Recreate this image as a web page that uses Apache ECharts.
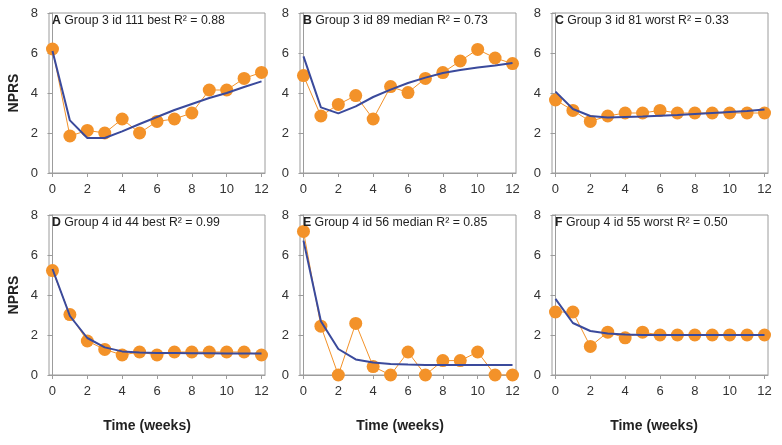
<!DOCTYPE html>
<html>
<head>
<meta charset="utf-8">
<script src="https://cdn.jsdelivr.net/npm/echarts@6/dist/echarts.min.js"></script>
<style>
html,body{margin:0;padding:0;background:#fff;}
#chart{width:782px;height:445px;}
</style>
</head>
<body>
<div id="chart"></div>
<script>
// ---- data ----
const weeks = [0,1,2,3,4,5,6,7,8,9,10,11,12];
const xTicks = [0,2,4,6,8,10,12];

const panelLetters = ['A','B','C','D','E','F'];
const panelTitles = [
  'Group 3 id 111 best R\u00B2 = 0.88',
  'Group 3 id 89 median R\u00B2 = 0.73',
  'Group 3 id 81 worst R\u00B2 = 0.33',
  'Group 4 id 44 best R\u00B2 = 0.99',
  'Group 4 id 56 median R\u00B2 = 0.85',
  'Group 4 id 55 worst R\u00B2 = 0.50'
];

const obsA = [6.2,1.85,2.13,2.0,2.7,2.0,2.58,2.7,3.0,4.15,4.15,4.73,5.03];
const fitA = [6.1,2.63,1.75,1.75,2.08,2.45,2.8,3.15,3.45,3.75,4.0,4.3,4.58];
const obsB = [4.87,2.85,3.43,3.87,2.7,4.32,4.02,4.73,5.02,5.6,6.18,5.75,5.47];
const fitB = [5.83,3.28,2.98,3.33,3.8,4.17,4.5,4.77,5.0,5.15,5.28,5.38,5.5];
const obsC = [3.65,3.13,2.58,2.85,3.0,3.0,3.13,3.0,3.0,3.0,3.0,3.0,3.0];
const fitC = [4.07,3.2,2.85,2.78,2.8,2.82,2.86,2.9,2.95,3.0,3.05,3.1,3.18];
const obsD = [5.22,3.02,1.7,1.28,1.0,1.15,1.0,1.15,1.15,1.15,1.15,1.15,1.0];
const fitD = [5.3,2.95,1.85,1.38,1.18,1.12,1.1,1.1,1.09,1.09,1.08,1.08,1.08];
const obsE = [7.18,2.44,0,2.58,0.42,0,1.15,0,0.72,0.72,1.15,0,0];
const fitE = [6.72,2.69,1.3,0.78,0.62,0.55,0.52,0.5,0.5,0.5,0.5,0.5,0.5];
const obsF = [3.15,3.15,1.43,2.14,1.86,2.14,2.0,2.0,2.0,2.0,2.0,2.0,2.0];
const fitF = [3.81,2.6,2.2,2.08,2.03,2.0,2.0,2.0,2.0,2.0,2.0,2.0,2.0];

const observed = [obsA,obsB,obsC,obsD,obsE,obsF];
const fitted = [fitA,fitB,fitC,fitD,fitE,fitF];

const yAxisName = 'NPRS';
const xAxisName = 'Time (weeks)';

// ---- layout ----
const lefts = [49, 300, 552];
const tops = [13, 215];
const W = 216, H = 160;
const ORANGE = '#F39229';
const BLUE = '#3A4A9C';
const FRAME = '#9c9c9c';
const FONT = '"Liberation Sans", Arial, sans-serif';

const chart = echarts.init(document.getElementById('chart'));
const grids = [], xAxes = [], yAxes = [], series = [], titles = [], graphics = [];

for (let i = 0; i < 6; i++) {
  const col = i % 3, row = Math.floor(i / 3);
  grids.push({left: lefts[col], top: tops[row], width: W, height: H,
    show: true, borderColor: FRAME, borderWidth: 1, backgroundColor: 'transparent'});
  xAxes.push({type: 'value', gridIndex: i, min: -0.2, max: 12.2,
    axisLine: {show: true, onZero: false, lineStyle: {color: FRAME, width: 1}},
    axisTick: {show: true, length: 4, lineStyle: {color: FRAME}, customValues: xTicks},
    axisLabel: {color: '#333', fontSize: 13, fontFamily: FONT, margin: 10, customValues: xTicks},
    splitLine: {show: false}});
  yAxes.push({type: 'value', gridIndex: i, min: 0, max: 8, interval: 2,
    axisLine: {show: true, lineStyle: {color: FRAME, width: 1}},
    axisTick: {show: true, length: 5, lineStyle: {color: FRAME}},
    axisLabel: {color: '#333', fontSize: 13, fontFamily: FONT, margin: 11},
    splitLine: {show: false}});
  series.push({type: 'line', xAxisIndex: i, yAxisIndex: i,
    data: weeks.map((w, k) => [w, observed[i][k]]),
    symbol: 'circle', symbolSize: 13, showSymbol: true,
    itemStyle: {color: ORANGE, borderWidth: 0},
    lineStyle: {color: ORANGE, width: 1}, z: 2, animation: false});
  series.push({type: 'line', xAxisIndex: i, yAxisIndex: i,
    data: weeks.map((w, k) => [w, fitted[i][k]]),
    symbol: 'none', lineStyle: {color: BLUE, width: 2}, z: 3, animation: false});
  titles.push({text: '{b|' + panelLetters[i] + '} ' + panelTitles[i],
    left: lefts[col] + 3, top: tops[row] + 2, padding: 0,
    textStyle: {fontSize: 12.3, fontWeight: 'normal', color: '#222', fontFamily: FONT,
      rich: {b: {fontWeight: 'bold', fontSize: 12.3, color: '#222', fontFamily: FONT}}}});
}

const panelCenters = [147, 400, 654];
for (let c = 0; c < 3; c++) {
  graphics.push({type: 'text', x: panelCenters[c], y: 426,
    style: {text: xAxisName, align: 'center', verticalAlign: 'middle',
      font: 'bold 14px ' + FONT, fill: '#222'}});
}
for (let r = 0; r < 2; r++) {
  graphics.push({type: 'text', rotation: Math.PI / 2, x: 14, y: tops[r] + H / 2,
    style: {text: yAxisName, align: 'center', verticalAlign: 'middle',
      font: 'bold 14px ' + FONT, fill: '#222'}});
}

chart.setOption({
  animation: false,
  backgroundColor: '#fff',
  title: titles,
  grid: grids,
  xAxis: xAxes,
  yAxis: yAxes,
  series: series,
  graphic: graphics
});
</script>
</body>
</html>
